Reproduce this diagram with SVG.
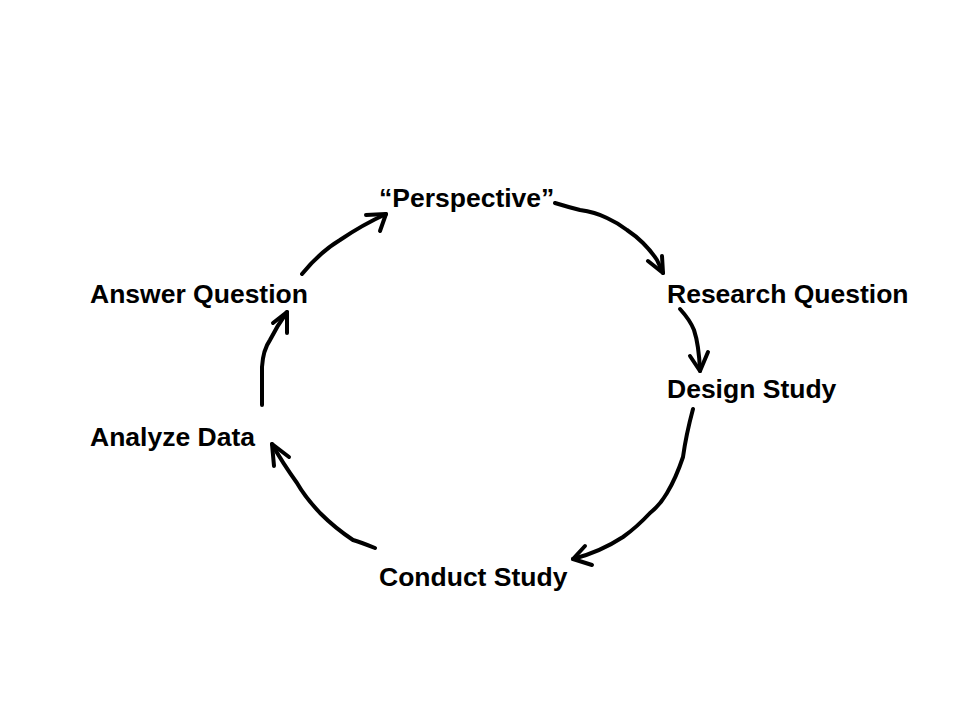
<svg xmlns="http://www.w3.org/2000/svg" width="959" height="719" viewBox="0 0 959 719">
<style>
.t{font-family:"Liberation Sans",Arial,sans-serif;font-weight:bold;font-size:26.5px;fill:#000}
.c{fill:none;stroke:#000;stroke-width:4;stroke-linecap:round;stroke-linejoin:round}
</style>
<rect width="959" height="719" fill="#fff"/>
<g id="perspective"><text class="t" x="379" y="207">“Perspective”</text></g>
<g id="research-question"><text class="t" x="667" y="303">Research Question</text></g>
<g id="design-study"><text class="t" x="667" y="398">Design Study</text></g>
<g id="conduct-study"><text class="t" x="379" y="586">Conduct Study</text></g>
<g id="analyze-data"><text class="t" x="90" y="446">Analyze Data</text></g>
<g id="answer-question"><text class="t" x="90" y="303">Answer Question</text></g>
<g id="connectors">
<path class="c" d="M555,203 Q568,207 580,210 Q595,212 607,218 Q618,223 627,230 Q636,236 643,243 Q651,251 657,260 L663,273"/>
<path class="c" d="M648,261 L663,273 L662,256"/>
<path class="c" d="M302,274 Q320,252 340,240 Q362,225 386,214"/>
<path class="c" d="M366,215 L386,214 L380,231"/>
<path class="c" d="M680,309 Q690,320 694,330 Q699,345 700,371"/>
<path class="c" d="M690,356 L700,371 L708,352"/>
<path class="c" d="M693,409 Q686,435 683,457 Q676,478 667,493 Q660,505 650,513 Q637,527 623,537 Q600,552 573,559"/>
<path class="c" d="M585,546 L573,559 L592,565"/>
<path class="c" d="M375,548 Q360,542 353,540 Q335,528 320,513 Q305,497 297,483 Q282,462 272,444"/>
<path class="c" d="M274,466 L272,444 L289,457"/>
<path class="c" d="M262,405 L262,367 Q263,350 270,340 Q277,326 287,312"/>
<path class="c" d="M273,323 L287,312 L287,333"/>
</g>
</svg>
